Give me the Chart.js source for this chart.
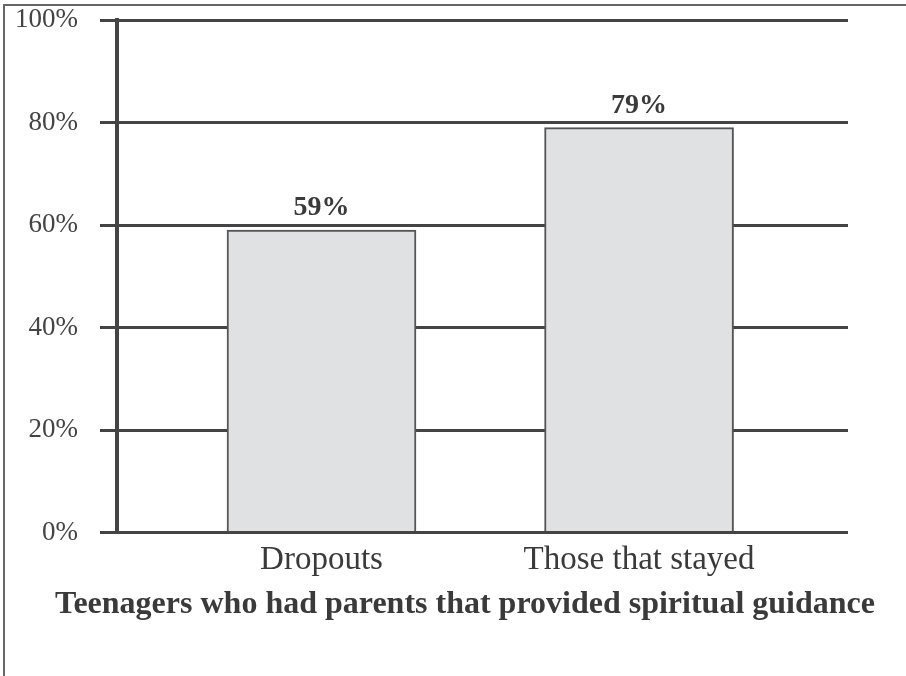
<!DOCTYPE html>
<html>
<head>
<meta charset="utf-8">
<script src="https://cdn.jsdelivr.net/npm/chart.js@4/dist/chart.umd.min.js"></script>
<style>
  html, body { margin: 0; padding: 0; background: #fff; }
  #wrap { position: relative; width: 906px; height: 676px; }
  #frame {
    position: absolute; left: 3px; top: 4px; right: 0; bottom: 0;
    border-left: 2px solid #666; border-top: 2px solid #666;
    pointer-events: none;
  }
</style>
</head>
<body>
<div id="wrap">
  <canvas id="chart" width="906" height="676"></canvas>
  <div id="frame"></div>
</div>
<script>
const categories = ['Dropouts', 'Those that stayed']
const values = [59, 79]
const yTicks = [0, 20, 40, 60, 80, 100]
const chartTitle = 'Teenagers who had parents that provided spiritual guidance'

const SERIF = '"Liberation Serif", "Times New Roman", serif'
const INK = '#3a3a3a'

// percentage printed above each bar
const barValueLabels = {
  id: 'barValueLabels',
  afterDatasetsDraw(chart) {
    const ctx = chart.ctx
    const meta = chart.getDatasetMeta(0)
    ctx.save()
    ctx.font = 'bold 28px ' + SERIF
    ctx.fillStyle = INK
    ctx.textAlign = 'center'
    ctx.textBaseline = 'alphabetic'
    meta.data.forEach((bar, i) => {
      const { x, y } = bar.getProps(['x', 'y'], true)
      ctx.fillText(values[i] + '%', x, y - 15)
    })
    ctx.restore()
  }
}

new Chart(document.getElementById('chart'), {
  type: 'bar',
  data: {
    datasets: [{
      data: values.map((v, i) => ({ x: i + 1, y: v })),
      backgroundColor: '#e0e1e3',
      borderColor: '#555',
      borderWidth: 2,
      barThickness: 189
    }]
  },
  options: {
    responsive: false,
    animation: false,
    // right side is negative so the bottom title centres a little right of the canvas middle
    layout: { padding: { top: 20, left: 0, right: -24, bottom: 52 } },
    plugins: {
      legend: { display: false },
      tooltip: { enabled: false },
      title: {
        display: true,
        position: 'bottom',
        text: chartTitle,
        color: INK,
        font: { family: SERIF, size: 32, weight: 'bold' },
        padding: 0
      }
    },
    scales: {
      x: {
        type: 'linear',
        offset: false,
        min: 0.356,
        max: 2.658,
        grid: { display: false },
        border: { display: false },
        afterBuildTicks: (scale) => {
          scale.ticks = categories.map((c, i) => ({ value: i + 1 }))
        },
        afterFit: (scale) => {
          scale.height = 53
          scale.paddingLeft = 0
          scale.paddingRight = 0
        },
        ticks: {
          color: INK,
          font: { family: SERIF, size: 33 },
          padding: 0,
          maxRotation: 0,
          autoSkip: false,
          callback: (v) => categories[v - 1]
        }
      },
      y: {
        min: 0,
        max: 100,
        afterBuildTicks: (scale) => {
          scale.ticks = yTicks.map(v => ({ value: v }))
        },
        afterFit: (scale) => {
          scale.width = 117
          scale.paddingTop = 0
          scale.paddingBottom = 0
        },
        grid: { color: '#444', lineWidth: 3, tickLength: 17, tickWidth: 3, tickColor: '#444' },
        border: { display: true, color: '#444', width: 4 },
        ticks: {
          color: '#444',
          font: { family: SERIF, size: 27 },
          padding: 22,
          callback: (v) => v + '%'
        }
      },
      // empty axis that only reserves the margin to the right of the grid
      y2: {
        position: 'right',
        grid: { display: false },
        border: { display: false },
        ticks: { display: false },
        afterFit: (scale) => { scale.width = 82 }
      }
    }
  },
  plugins: [barValueLabels]
})
</script>
</body>
</html>
